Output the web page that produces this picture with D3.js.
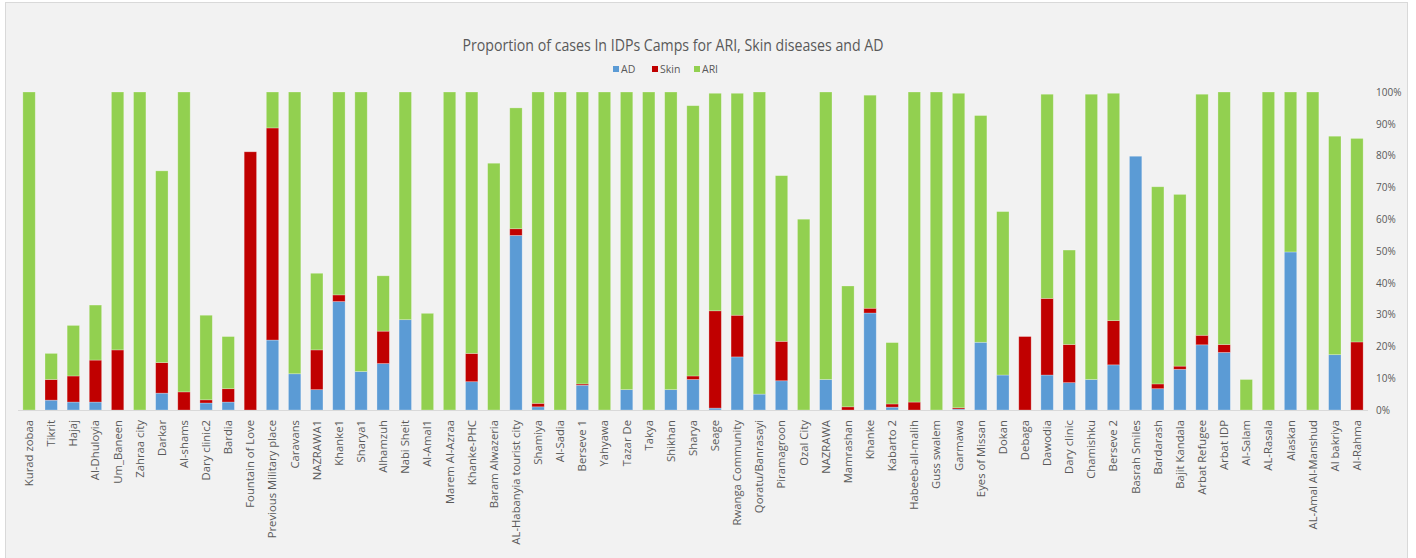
<!DOCTYPE html>
<html><head><meta charset="utf-8">
<script src="https://cdn.jsdelivr.net/npm/d3@7/dist/d3.min.js"></script>
<style>body{margin:0;background:#fff}svg{display:block}</style>
</head><body>
<svg id="c" width="1416" height="558"></svg>
<script>
const categories = ["Kurad zobaa","Tikrit","Hajaj","Al-Dhuloyia","Um_Baneen","Zahraa city","Darkar","Al-shams","Dary clinic2","Bardia","Fountain of Love","Previous Military place","Caravans","NAZRAWA1","Khanke1","Sharya1","Alhamzuh","Nabi Sheit","Al-Amal1","Marem Al-Azraa","Khanke-PHC","Baram Alwazeria","AL-Habanyia tourist city","Shamiya","Al-Sadia","Berseve 1","Yahyawa","Tazar De","Takya","Shikhan","Sharya","Seage","Rwanga Community","Qoratu/Banrasayi","Piramagroon","Ozal City","NAZRAWA","Mamrashan","Khanke","Kabarto 2","Habeeb-all-malih","Guss swalem","Garmawa","Eyes of Missan","Dokan","Debaga","Dawodia","Dary clinic","Chamishku","Berseve 2","Basrah Smiles","Bardarash","Bajit Kandala","Arbat Refugee","Arbat IDP","Al-Salam","AL-Rasala","Alaskan","AL-Amal Al-Manshud","Al bakriya","Al-Rahma"];
const AD =   [0,3.1,2.5,2.5,0,0,5.3,0,2.2,2.5,0,22.0,11.4,6.4,34.1,12.1,14.6,28.4,0,0,8.9,0,54.9,1.0,0,7.8,0,6.4,0,6.4,9.6,0.6,16.7,5.0,9.2,0,9.6,0,30.5,0.9,0,0,0.3,21.3,11.0,0,11.0,8.6,9.6,14.2,79.8,6.7,12.8,20.5,18.1,0,0,49.7,0,17.4,0];
const Skin = [0,6.5,8.2,13.2,18.9,0,9.6,5.7,1.0,4.2,81.2,66.7,0,12.5,2.1,0,10.2,0,0,0,8.9,0,2.1,1.1,0,0.4,0,0,0,0,1.1,30.6,13.1,0,12.4,0,0,1.0,1.5,1.0,2.5,0,0.4,0,0,23.1,24.1,12.0,0,13.9,0,1.5,1.0,3.0,2.5,0,0,0,0,0,21.4];
const ARI =  [100,8.2,15.9,17.3,81.1,100,60.3,94.3,26.6,16.4,0,11.3,88.6,24.1,63.8,87.9,17.4,71.6,30.4,100,82.2,77.6,38.0,97.9,100,91.8,100,93.6,100,93.6,85.0,68.4,69.8,95.0,52.1,60.0,90.4,38.0,67.0,19.3,97.5,100,98.9,71.3,51.4,0,64.2,29.7,89.7,71.5,0,62.0,54.0,75.8,79.4,9.6,100,50.3,100,68.7,64.0];
const seriesNames = ["AD","Skin","ARI"];
const colors = ["#5b9bd5","#c00000","#92d050"];
const yTicks = [0,10,20,30,40,50,60,70,80,90,100];

const svg = d3.select("#c");
const font = "'Open Sans', 'DejaVu Sans', sans-serif";
const textCol = "#595959";

svg.append("rect").attr("x",5.5).attr("y",2.5).attr("width",1402).attr("height",570)
  .attr("fill","#f2f2f2").attr("stroke","#d9d9d9").attr("stroke-width",1);

const x = d3.scaleBand().domain(categories).range([18,1368]).paddingInner(0.44).paddingOuter(0.22);
const y = d3.scaleLinear().domain([0,100]).range([410,92]);

const rows = categories.map((c,i)=>({cat:c, AD:AD[i], Skin:Skin[i], ARI:ARI[i]}));
const stacked = d3.stack().keys(seriesNames)(rows);

svg.append("g").selectAll("g").data(stacked).join("g")
  .attr("fill",(d,i)=>colors[i])
  .selectAll("rect").data(d=>d.filter(s=>s[1]-s[0]>0)).join("rect")
  .attr("x",d=>x(d.data.cat)).attr("width",x.bandwidth())
  .attr("y",d=>y(d[1])).attr("height",d=>y(d[0])-y(d[1]))
  .attr("stroke","rgba(255,255,255,0.35)").attr("stroke-width",0.75);

svg.append("line").attr("x1",18).attr("x2",1368).attr("y1",y(0)+0.5).attr("y2",y(0)+0.5)
  .attr("stroke","#d9d9d9").attr("stroke-width",1);

const yAxis = d3.axisRight(y).tickValues(yTicks).tickFormat(d=>d+"%").tickSize(0).tickPadding(0);
const ya = svg.append("g").attr("transform","translate(1376,0)").call(yAxis);
ya.select(".domain").remove();
ya.selectAll("text").attr("fill",textCol).style("font-family",font).style("font-size","10px");

const xAxis = d3.axisBottom(x).tickSize(0).tickPadding(0);
const xa = svg.append("g").attr("transform","translate(0,"+(y(0)+10)+")").call(xAxis);
xa.select(".domain").remove();
xa.selectAll("text").attr("fill",textCol).style("font-family",font).style("font-size","11.3px")
  .attr("transform","rotate(-90)").attr("text-anchor","end").attr("x",0).attr("y",0).attr("dy","0.35em");

svg.append("text").attr("x",673).attr("y",51).attr("text-anchor","middle")
  .attr("fill",textCol).style("font-family",font).style("font-size","17px")
  .attr("textLength",421).attr("lengthAdjust","spacingAndGlyphs")
  .text("Proportion of cases In IDPs Camps for ARI, Skin diseases and AD");

const legendX = [613,652,694];
const lg = svg.append("g").selectAll("g").data(seriesNames).join("g")
  .attr("transform",(d,i)=>"translate("+legendX[i]+",66)");
lg.append("rect").attr("width",6).attr("height",6).attr("fill",(d,i)=>colors[i]);
lg.append("text").attr("x",8).attr("y",3).attr("dy","0.35em").attr("fill",textCol)
  .style("font-family",font).style("font-size","10.5px").text(d=>d);
</script>
</body></html>
